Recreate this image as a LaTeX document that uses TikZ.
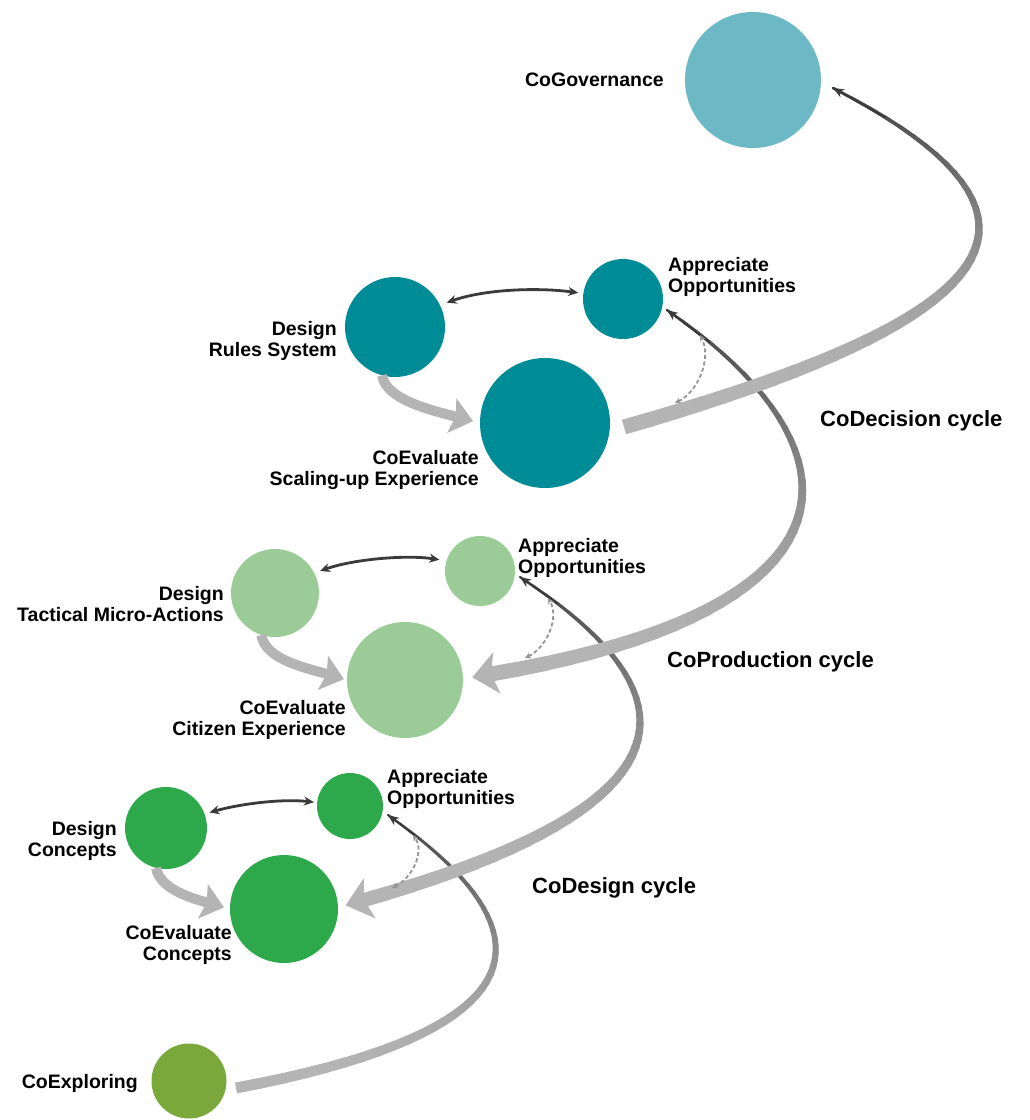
\documentclass[tikz,border=0pt]{standalone}
\usepackage{fontspec}
\setmainfont{Liberation Sans}
\usetikzlibrary{arrows.meta,calc}

\definecolor{govblue}{HTML}{6DB8C5}
\definecolor{decteal}{HTML}{008C96}
\definecolor{prodgreen}{HTML}{9BCB96}
\definecolor{desgreen}{HTML}{2DA84A}
\definecolor{exolive}{HTML}{7BA83B}
\definecolor{rbgray}{HTML}{B4B4B4}
\definecolor{rbdark}{HTML}{3A3A3A}
\definecolor{hintgray}{HTML}{959595}

\tikzset{
  stage/.style={circle, inner sep=0pt, minimum size=#1},
  lbl/.style={font=\bfseries\fontsize{19.5}{20.5}\selectfont, inner sep=0pt},
  cyc/.style={font=\bfseries\fontsize{22}{24}\selectfont, inner sep=0pt},
  link/.style={{Stealth[length=10pt,width=9pt]}-{Stealth[length=10pt,width=9pt]}, rbdark, line width=2.8pt},
  push/.style={rbgray, line width=10pt, -{Stealth[length=22pt,width=36pt,inset=4pt,line width=0pt]}},
  hint/.style={hintgray, line width=1.8pt, dash pattern=on 4pt off 2.5pt, {Stealth[length=6pt,width=6pt]}-{Stealth[length=6pt,width=6pt]}},
  tinytip/.style={rbdark, line width=2pt, -{Stealth[length=11pt,width=9pt]}},
  bigtip/.style={rbgray, line width=1pt, -{Stealth[length=25pt,width=42pt,inset=6pt]}}
}

% tapered spiral band: curve points, thick width, thin width
\newcommand{\ribbon}[6]{%
  \foreach \k [evaluate=\k as \rt using \k/40] in {0,...,40}
    \path #1 .. controls #2 and #3 .. #4 coordinate[pos=\rt] (rb\k);
  \draw[line width=#5pt, rbgray, line cap=butt] (rb0) -- (rb1);
  \foreach \k [evaluate=\k as \kn using int(\k+1),
               evaluate=\k as \rw using #5+(#6-#5)*\k/40,
               evaluate=\k as \rc using int(100*(\k/40)^2)] in {1,...,39}
    \draw[line width=\rw pt, color=rbdark!\rc!rbgray, line cap=round] (rb\k) -- (rb\kn);
}

\begin{document}
\begin{tikzpicture}[x=1pt,y=-1pt]
      \useasboundingbox (0,0) rectangle (1029,1120);

      % Spiral
      \ribbon{(236,1088)}{(572,1025)}{(535,919)}{(388,815)}{11}{2}
      \draw[tinytip] (rb37) -- (rb40);
      \ribbon{(364,900)}{(700,805)}{(700,695)}{(520,577)}{14}{2}
      \draw[bigtip] (rb1) -- ($(rb0)!-19pt!(rb1)$);
      \draw[tinytip] (rb37) -- (rb40);
      \ribbon{(491,674)}{(870,610)}{(870,450)}{(667,310)}{15}{2.2}
      \draw[bigtip] (rb1) -- ($(rb0)!-19pt!(rb1)$);
      \draw[tinytip] (rb37) -- (rb40);
      \ribbon{(624,427)}{(1000,320)}{(1090,220)}{(833,88)}{15}{2.5}
      \draw[tinytip] (rb37) -- (rb40);

      % Stages
      \node[stage=136pt, fill=govblue] (gov) at (753,80) {};
      \node[stage=80pt, fill=decteal] (app3) at (623,299) {};
      \node[stage=100pt, fill=decteal] (des3) at (395,327) {};
      \node[stage=130pt, fill=decteal] (eval3) at (545,423) {};
      \node[stage=70pt, fill=prodgreen] (app2) at (480,571) {};
      \node[stage=88pt, fill=prodgreen] (des2) at (275,593) {};
      \node[stage=116pt, fill=prodgreen] (eval2) at (405,680) {};
      \node[stage=66pt, fill=desgreen] (app1) at (350,806) {};
      \node[stage=82pt, fill=desgreen] (des1) at (166,828) {};
      \node[stage=108pt, fill=desgreen] (eval1) at (284,909) {};
      \node[stage=75pt, fill=exolive] (explo) at (189,1081) {};

      % Labels
      \node[lbl, anchor=east] (govtxt) at (664,80) {CoGovernance};
      \node[lbl, anchor=west, align=left] (app3txt) at (668,277) {Appreciate\\Opportunities};
      \node[lbl, anchor=east, align=right] (des3txt) at (337,341) {Design\\Rules System};
      \node[lbl, anchor=east, align=right] (eval3txt) at (479,470) {CoEvaluate\\Scaling-up Experience};
      \node[cyc, anchor=west] (dectxt) at (820,421) {CoDecision cycle};
      \node[lbl, anchor=west, align=left] (app2txt) at (518,558) {Appreciate\\Opportunities};
      \node[lbl, anchor=east, align=right] (des2txt) at (224,604) {Design\\Tactical Micro-Actions};
      \node[lbl, anchor=east, align=right] (eval2txt) at (346,720) {CoEvaluate\\Citizen Experience};
      \node[cyc, anchor=west] (prodtxt) at (667,662) {CoProduction cycle};
      \node[lbl, anchor=west, align=left] (app1txt) at (387,789) {Appreciate\\Opportunities};
      \node[lbl, anchor=east, align=right] (des1txt) at (117,841) {Design\\Concepts};
      \node[lbl, anchor=east, align=right] (eval1txt) at (232,945) {CoEvaluate\\Concepts};
      \node[cyc, anchor=west] (destxt) at (532,888) {CoDesign cycle};
      \node[lbl, anchor=east] (explotxt) at (138,1083) {CoExploring};

      % Design <-> Appreciate
      \draw[link, shorten <=7pt, shorten >=5pt] (des3.26) .. controls +(45,-16) and +(-45,-6) .. (app3.172);
      \draw[link, shorten <=6pt, shorten >=7pt] (des2.27) .. controls +(40,-14) and +(-40,-6) .. (app2.163);
      \draw[link, shorten <=5pt, shorten >=3pt] (des1.20) .. controls +(35,-10) and +(-35,-4) .. (app1.174);

      % Design -> CoEvaluate
      \draw[push, shorten >=7pt] (des3.-105) .. controls +(4,25) and +(-45,-12) .. (eval3.west);
      \draw[push, shorten >=3pt] (des2.-108) .. controls +(4,25) and +(-40,-12) .. (eval2.west);
      \draw[push, shorten >=6pt] (des1.-104) .. controls +(4,22) and +(-35,-10) .. (eval1.west);

      % Feedback
      \draw[hint] (675,403) .. controls (698,392) and (712,358) .. (700,335);
      \draw[hint] (525,658) .. controls (546,648) and (560,618) .. (548,598);
      \draw[hint] (392,888) .. controls (412,878) and (425,852) .. (413,835);

\end{tikzpicture}
\end{document}
